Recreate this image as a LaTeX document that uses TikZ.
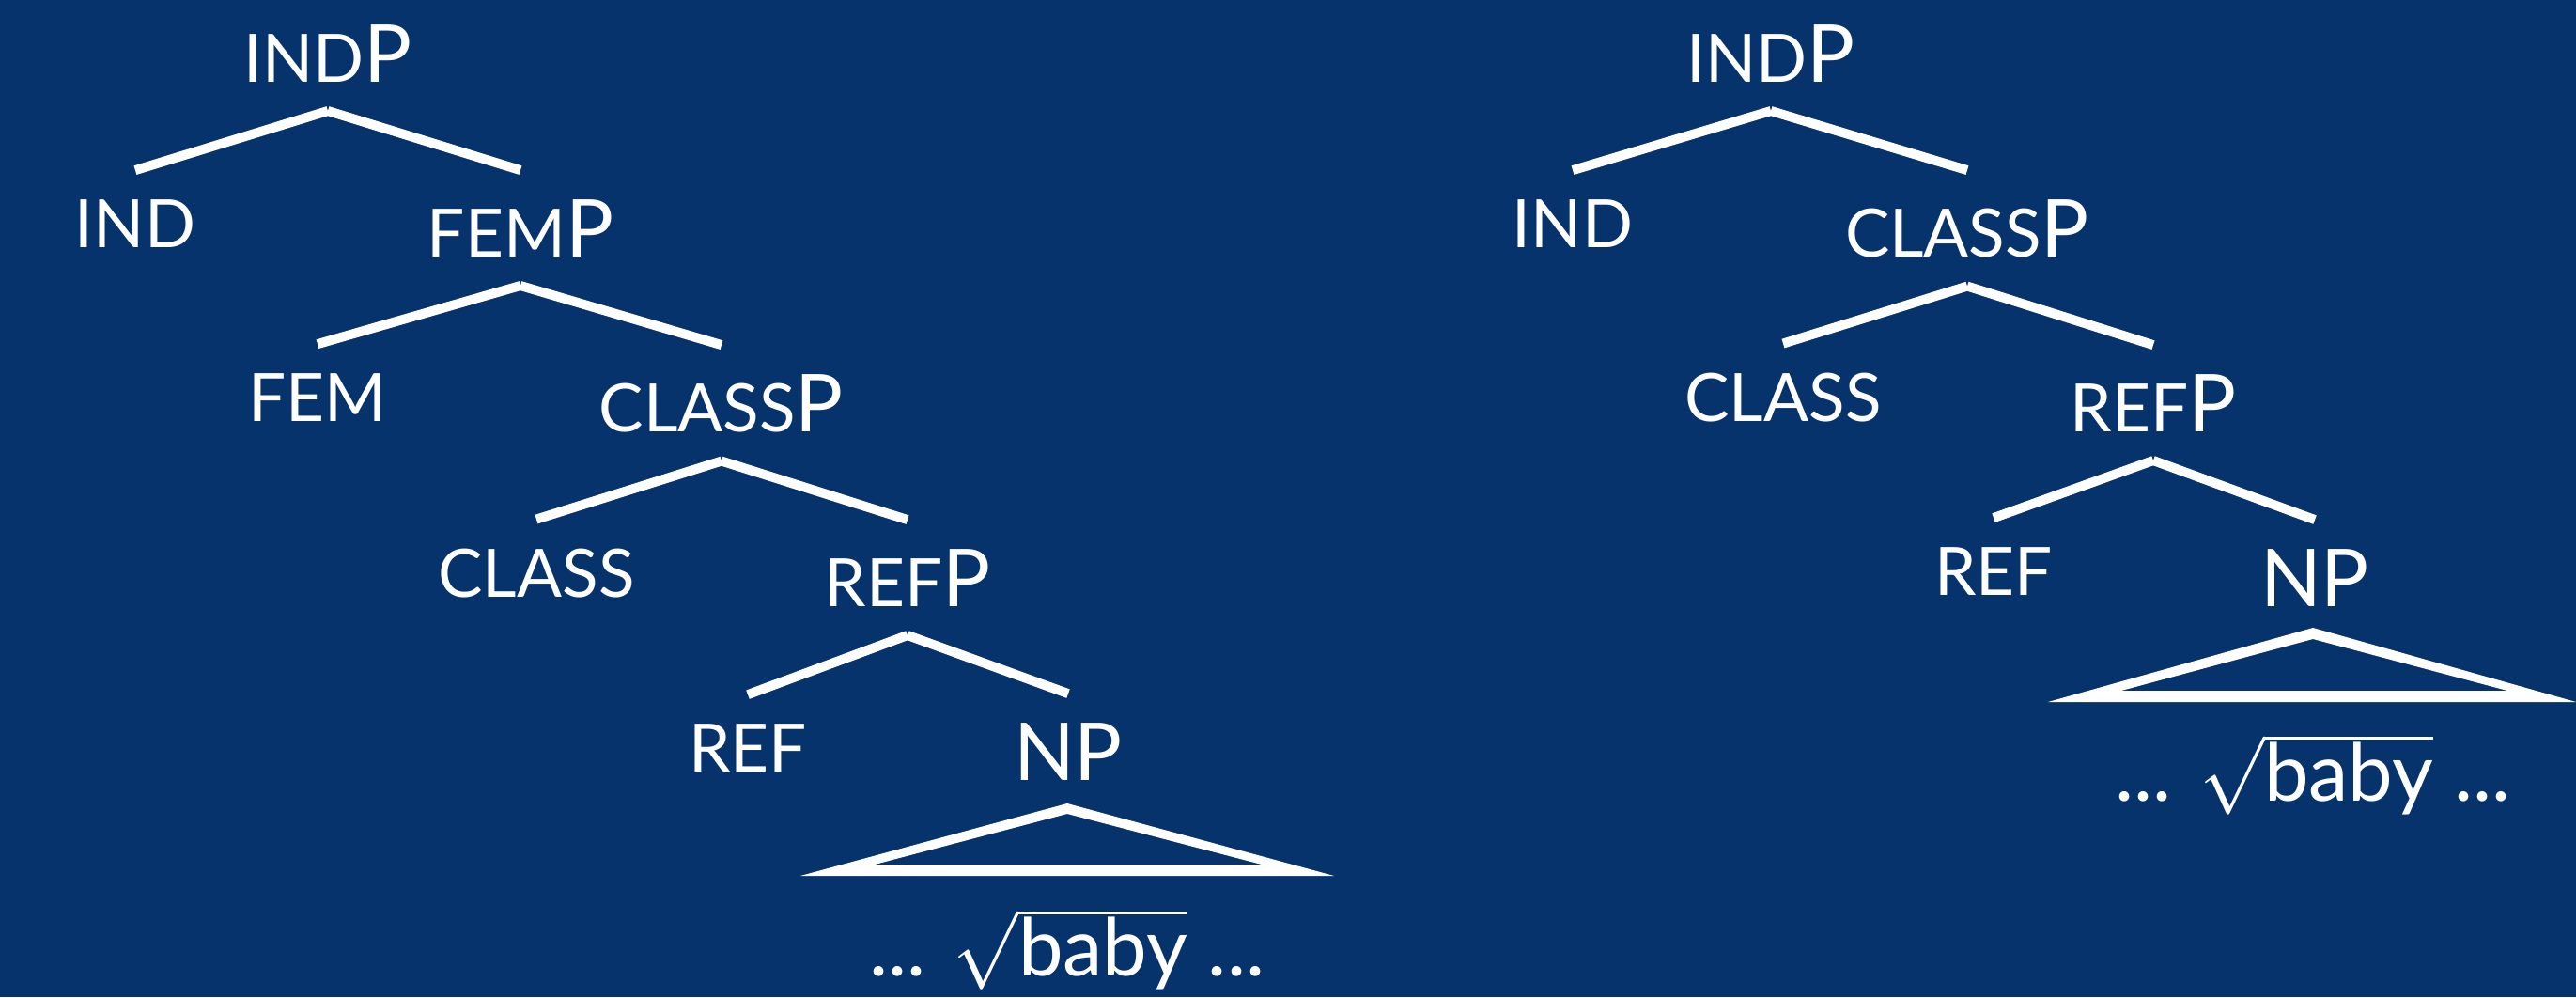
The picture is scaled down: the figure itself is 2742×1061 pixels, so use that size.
\documentclass[tikz,border=0pt]{standalone}
\usepackage{fontspec}
\setmainfont{Lato}
\definecolor{navy}{RGB}{7,51,108}
\newcommand{\sm}{\fontsize{17.75}{20}\selectfont}

\begin{document}
\begin{tikzpicture}[x=0.25pt,y=-0.25pt,white,line width=2.5pt,
    lab/.style={anchor=base,inner xsep=0pt,inner ysep=6.5pt,font=\fontsize{21.25}{24}\selectfont}]

\fill[navy] (0,0) rectangle (2742,1061);
\useasboundingbox (0,0) rectangle (2742,1061);

% left tree
\node[lab] (1)  at (349,87)   {{\sm IND}P};
\node[lab] (2)  at (144,263)  {\sm IND};
\node[lab] (3)  at (554,273)  {{\sm FEM}P};
\node[lab] (4)  at (338,448)  {\sm FEM};
\node[lab] (5)  at (768,459)  {{\sm CLASS}P};
\node[lab] (6)  at (571,635)  {\sm CLASS};
\node[lab] (7)  at (966,645)  {{\sm REF}P};
\node[lab] (8)  at (796,821)  {\sm REF};
\node[lab] (9)  at (1137,830) {NP};
\node[lab] (10) at (1136,1038) {... $\sqrt{\mbox{baby}}$ ...};

\path
(1.south) edge (2.north) edge (3.north)
(3.south) edge (4.north) edge (5.north)
(5.south) edge (6.north) edge (7.north)
(7.south) edge (8.north) edge (9.north);
\fill[even odd rule] (852,932) -- (1136,855) -- (1420,932) -- cycle
    (931,920) -- (1136,866) -- (1343,920) -- cycle;

% right tree
\node[lab] (11) at (1885,87)  {{\sm IND}P};
\node[lab] (12) at (1674,263) {\sm IND};
\node[lab] (13) at (2094,273) {{\sm CLASS}P};
\node[lab] (14) at (1898,448) {\sm CLASS};
\node[lab] (15) at (2292,459) {{\sm REF}P};
\node[lab] (16) at (2122,633) {\sm REF};
\node[lab] (17) at (2464,645) {NP};
\node[lab] (18) at (2462,852) {... $\sqrt{\mbox{baby}}$ ...};

\path
(11.south) edge (12.north) edge (13.north)
(13.south) edge (14.north) edge (15.north)
(15.south) edge (16.north) edge (17.north);
\fill[even odd rule] (2180,747) -- (2462,668) -- (2742,747) -- cycle
    (2258,735) -- (2462,680) -- (2669,735) -- cycle;
\end{tikzpicture}
\end{document}
